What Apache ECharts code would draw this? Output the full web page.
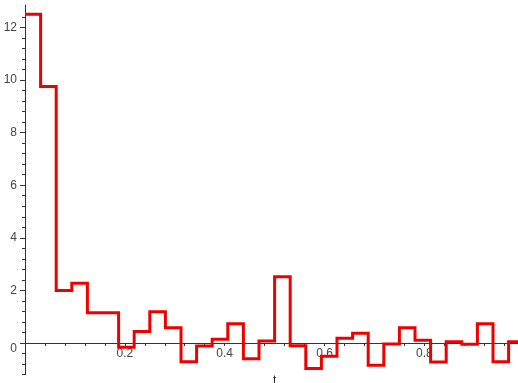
<!DOCTYPE html>
<html>
<head>
<meta charset="utf-8">
<script src="https://cdn.jsdelivr.net/npm/echarts@6/dist/echarts.min.js"></script>
<style>
  html, body { margin: 0; padding: 0; background: #fff; }
  #chart { width: 518px; height: 383px; }
</style>
</head>
<body>
<div id="chart"></div>
<script>
// Piecewise-constant signal on [0, 1], 32 equal steps
const tStart = 0;
const tEnd = 1;
const stepValues = [
  12.5, 9.75, 2.0, 2.27, 1.15, 1.15, -0.16, 0.44,
  1.19, 0.58, -0.71, -0.11, 0.14, 0.73, -0.6, 0.08,
  2.52, -0.1, -0.97, -0.5, 0.18, 0.37, -0.84, -0.04,
  0.58, 0.11, -0.72, 0.05, -0.05, 0.73, -0.71, 0.05
];

// Tick positions and labels
const xTickLabels = [0.2, 0.4, 0.6, 0.8];
const yTickLabels = [0, 2, 4, 6, 8, 10, 12];
const yMinorTicks = [-1.2, -0.8, -0.4, 0.4, 0.8, 1.2, 1.6, 2.4, 2.8, 3.2, 3.6,
  4.4, 4.8, 5.2, 5.6, 6.4, 6.8, 7.2, 7.6, 8.4, 8.8, 9.2, 9.6,
  10.4, 10.8, 11.2, 11.6, 12.4];

// Vertical view range
const yMin = -1.2;
const yMax = 12.85;

// Build the staircase: each step contributes its left and right corner
const stepWidth = (tEnd - tStart) / stepValues.length;
const staircase = [];
stepValues.forEach((v, k) => {
  staircase.push([tStart + k * stepWidth, v]);
  staircase.push([tStart + (k + 1) * stepWidth, v]);
});

const W = 518, H = 383;
const gridTop = 5, gridBottom = 8.4;
const plotHeight = H - gridTop - gridBottom;
// Lift the horizontal axis from the bottom edge up to the y = 0 line
const xAxisOffset = -plotHeight * (0 - yMin) / (yMax - yMin);

const font = "'Liberation Sans', Arial, sans-serif";
const axisColor = '#333';
const labelColor = '#444';

const chart = echarts.init(document.getElementById('chart'), null, { renderer: 'canvas' });
chart.setOption({
  animation: false,
  backgroundColor: '#fff',
  grid: { left: 25, right: -6.2, top: gridTop, bottom: gridBottom, containLabel: false, outerBoundsMode: 'none' },
  xAxis: {
    type: 'value',
    min: tStart,
    max: tEnd,
    interval: 0.04,
    position: 'bottom',
    offset: xAxisOffset,
    name: 't',
    nameLocation: 'middle',
    nameGap: 32,
    nameTextStyle: { fontFamily: font, fontSize: 12, color: '#222' },
    axisLine: { onZero: false, lineStyle: { color: axisColor, width: 1 } },
    axisTick: { show: true, inside: false, length: 3, lineStyle: { color: axisColor } },
    minorTick: { show: false },
    axisLabel: {
      customValues: xTickLabels,
      margin: 5,
      fontFamily: font,
      fontSize: 12,
      color: labelColor
    },
    splitLine: { show: false }
  },
  yAxis: [
    {
      type: 'value',
      min: yMin,
      max: yMax,
      axisLine: { onZero: false, lineStyle: { color: axisColor, width: 1 } },
      axisTick: { show: true, customValues: yTickLabels, length: 5, lineStyle: { color: axisColor } },
      axisLabel: {
        customValues: yTickLabels,
        margin: 8,
        fontFamily: font,
        fontSize: 12,
        color: labelColor,
        formatter: v => (v === 0 ? '{z|0}' : String(v)),
        rich: { z: { fontFamily: font, fontSize: 12, color: labelColor, padding: [12, 0, 0, 0] } }
      },
      splitLine: { show: false }
    },
    {
      type: 'value',
      min: yMin,
      max: yMax,
      position: 'left',
      axisLine: { show: false, onZero: false },
      axisTick: { show: true, customValues: yMinorTicks, length: 3, lineStyle: { color: axisColor } },
      axisLabel: { show: false },
      splitLine: { show: false }
    }
  ],
  series: [
    {
      type: 'line',
      data: staircase,
      yAxisIndex: 0,
      showSymbol: false,
      symbol: 'none',
      lineStyle: { color: '#ee0000', width: 3, join: 'miter' },
      itemStyle: { color: '#ee0000' },
      clip: true
    }
  ]
});
</script>
</body>
</html>
